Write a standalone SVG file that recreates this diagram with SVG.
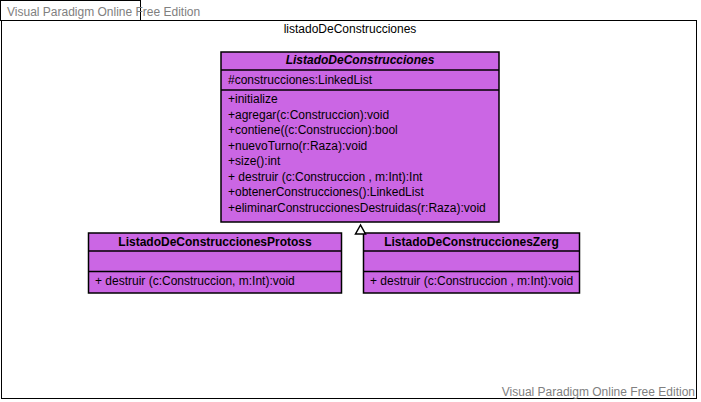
<svg xmlns="http://www.w3.org/2000/svg" width="701" height="402" viewBox="0 0 701 402">
<style>
.frame{fill:#ffffff;stroke:#000000;stroke-width:1}
.cls{fill:#cb66e4;stroke:#000000;stroke-width:1.5}
.sep{stroke:#000000;stroke-width:1.5}
.t{font-family:"Liberation Sans",Arial,sans-serif;font-size:12px;fill:#000000}
.h{font-family:"Liberation Sans",Arial,sans-serif;font-size:12px;font-weight:bold;fill:#000000;text-anchor:middle}
.wm{font-family:"Liberation Sans",Arial,sans-serif;font-size:12px;fill:#808080}
.pk{font-family:"Liberation Sans",Arial,sans-serif;font-size:12px;fill:#000000;text-anchor:middle}
.gen{fill:#ffffff;stroke:#000000;stroke-width:1.5}
</style>
<rect x="0" y="0" width="701" height="402" fill="#ffffff"/>
<g id="package">
<rect class="frame" x="1.5" y="20.5" width="695" height="378"/>
<rect class="frame" x="0.5" y="0.5" width="140" height="20"/>
<text class="wm" x="7" y="16">Visual Paradigm Online Free Edition</text>
<text class="pk" x="350" y="33">listadoDeConstrucciones</text>
<text class="wm" x="695" y="396" text-anchor="end">Visual Paradigm Online Free Edition</text>
</g>
<g id="ListadoDeConstrucciones">
<rect class="cls" x="221" y="52" width="278" height="170"/>
<line class="sep" x1="221" y1="70" x2="499" y2="70"/>
<line class="sep" x1="221" y1="90" x2="499" y2="90"/>
<text class="h" x="360" y="64" font-style="italic">ListadoDeConstrucciones</text>
<text class="t" x="228" y="84">#construcciones:LinkedList</text>
<text class="t" x="228" y="103">+initialize</text>
<text class="t" x="228" y="118.5">+agregar(c:Construccion):void</text>
<text class="t" x="228" y="134">+contiene((c:Construccion):bool</text>
<text class="t" x="228" y="149.5">+nuevoTurno(r:Raza):void</text>
<text class="t" x="228" y="165">+size():int</text>
<text class="t" x="228" y="180.5">+ destruir (c:Construccion , m:Int):Int</text>
<text class="t" x="228" y="196">+obtenerConstrucciones():LinkedList</text>
<text class="t" x="228" y="211.5">+eliminarConstruccionesDestruidas(r:Raza):void</text>
</g>
<g id="ListadoDeConstruccionesProtoss">
<rect class="cls" x="88.5" y="233" width="253" height="60"/>
<line class="sep" x1="88.5" y1="251" x2="341.5" y2="251"/>
<line class="sep" x1="88.5" y1="271.5" x2="341.5" y2="271.5"/>
<text class="h" x="215" y="246">ListadoDeConstruccionesProtoss</text>
<text class="t" x="95" y="285">+ destruir (c:Construccion, m:Int):void</text>
</g>
<g id="ListadoDeConstruccionesZerg">
<rect class="cls" x="363.5" y="233" width="216" height="60"/>
<line class="sep" x1="363.5" y1="251" x2="579.5" y2="251"/>
<line class="sep" x1="363.5" y1="271.5" x2="579.5" y2="271.5"/>
<text class="h" x="471.5" y="246">ListadoDeConstruccionesZerg</text>
<text class="t" x="370" y="285">+ destruir (c:Construccion , m:Int):void</text>
</g>
<g id="connectors">
<polygon class="gen" points="360.5,225 355.5,234 365.5,234"/>
</g>
</svg>
